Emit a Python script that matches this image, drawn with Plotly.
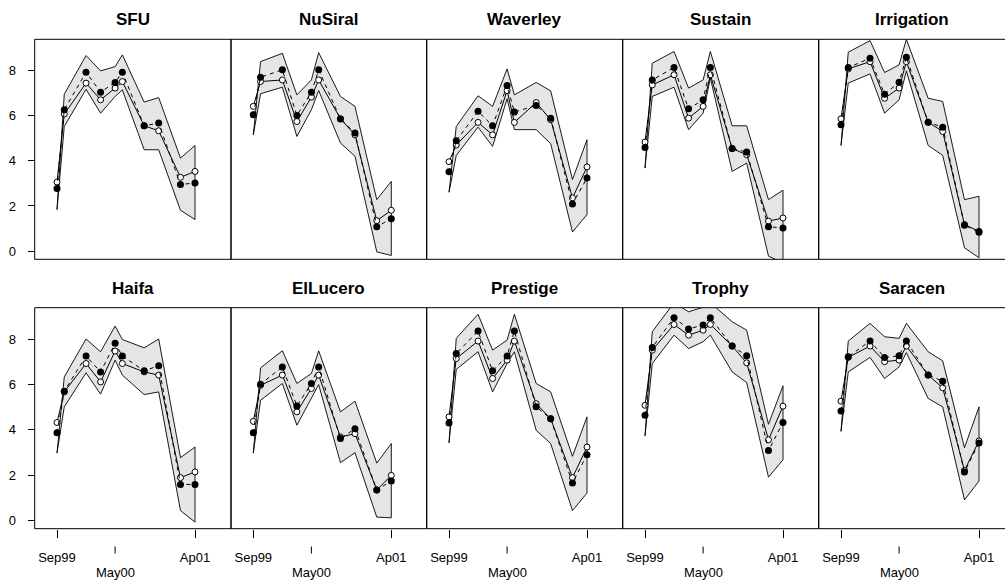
import plotly.graph_objects as go

# ---------------- data ----------------
sites = ["SFU", "NuSiral", "Waverley", "Sustain", "Irrigation",
         "Haifa", "ElLucero", "Prestige", "Trophy", "Saracen"]
# sampling dates as months after Sep 1999
months = [0, 1, 4, 6, 8, 9, 12, 14, 17, 19]
tick_vals = [0, 8, 19]
tick_text = ["Sep99", "May00", "Ap01"]
y_ticks = [0, 2, 4, 6, 8]

observed = [
    [2.77, 6.26, 7.92, 7.04, 7.47, 7.92, 5.55, 5.67, 2.95, 3.02],
    [6.04, 7.70, 8.03, 6.01, 7.04, 8.03, 5.85, 5.23, 1.08, 1.44],
    [3.52, 4.89, 6.19, 5.55, 7.33, 6.16, 6.45, 5.89, 2.09, 3.24],
    [4.59, 7.58, 8.13, 6.30, 6.70, 8.13, 4.54, 4.39, 1.08, 1.03],
    [5.60, 8.13, 8.54, 6.95, 7.48, 8.59, 5.71, 5.49, 1.15, 0.84],
    [3.87, 5.70, 7.25, 6.55, 7.81, 7.25, 6.60, 6.82, 1.59, 1.59],
    [3.87, 6.01, 6.77, 5.05, 6.04, 6.77, 3.61, 4.05, 1.35, 1.74],
    [4.30, 7.36, 8.35, 6.60, 7.25, 8.35, 5.01, 4.49, 1.65, 2.90],
    [4.64, 7.63, 8.94, 8.44, 8.62, 8.94, 7.69, 7.26, 3.09, 4.32],
    [4.83, 7.22, 7.91, 7.19, 7.26, 7.91, 6.41, 6.14, 2.14, 3.42],
]
fitted = [
    [3.06, 6.07, 7.44, 6.70, 7.22, 7.51, 5.55, 5.33, 3.27, 3.53],
    [6.41, 7.51, 7.58, 5.74, 6.82, 7.58, 5.86, 5.15, 1.35, 1.81],
    [3.96, 4.70, 5.70, 5.15, 7.11, 5.70, 6.58, 5.82, 2.36, 3.73],
    [4.83, 7.36, 7.81, 5.89, 6.41, 7.81, 4.54, 4.27, 1.33, 1.47],
    [5.86, 8.07, 8.39, 6.77, 7.22, 8.39, 5.71, 5.30, 1.18, 0.88],
    [4.32, 5.67, 6.92, 6.11, 7.47, 6.92, 6.55, 6.41, 1.89, 2.14],
    [4.37, 5.96, 6.41, 4.79, 5.82, 6.41, 3.68, 3.83, 1.35, 1.99],
    [4.57, 7.14, 7.91, 6.26, 7.07, 7.91, 5.15, 4.49, 1.89, 3.24],
    [5.08, 7.51, 8.64, 8.17, 8.39, 8.64, 7.69, 6.95, 3.56, 5.04],
    [5.26, 7.19, 7.69, 7.00, 7.07, 7.69, 6.41, 5.85, 2.21, 3.51],
]
upper = [
    [1.84, 6.95, 8.66, 7.98, 8.17, 8.69, 6.60, 6.80, 4.12, 4.68],
    [5.15, 8.39, 8.76, 6.92, 7.58, 8.79, 6.85, 6.41, 2.28, 3.09],
    [2.61, 5.52, 6.88, 6.41, 8.07, 6.92, 7.47, 7.10, 3.17, 4.93],
    [3.68, 8.32, 8.84, 7.22, 7.58, 8.84, 5.55, 5.55, 2.28, 2.70],
    [4.68, 8.81, 9.32, 7.91, 8.25, 9.38, 6.77, 6.63, 2.28, 2.43],
    [2.97, 6.33, 8.00, 7.44, 8.57, 7.98, 7.61, 8.00, 2.77, 3.24],
    [2.97, 6.73, 7.48, 6.04, 6.48, 7.48, 4.79, 5.26, 2.53, 3.39],
    [3.42, 8.03, 9.09, 7.51, 7.95, 9.09, 6.04, 5.67, 2.83, 4.57],
    [3.73, 8.32, 9.60, 9.20, 9.40, 9.60, 8.76, 8.39, 4.24, 5.94],
    [3.93, 7.91, 8.69, 8.10, 8.03, 8.69, 7.44, 7.04, 3.21, 5.01],
]
lower = [
    [1.84, 5.52, 7.17, 6.11, 6.85, 7.14, 4.49, 4.49, 1.81, 1.40],
    [5.15, 6.97, 7.26, 5.08, 6.26, 7.11, 4.79, 4.20, -0.03, -0.19],
    [2.61, 4.24, 5.49, 4.64, 6.75, 5.38, 5.38, 4.76, 0.85, 1.62],
    [3.68, 6.85, 7.26, 5.38, 6.11, 7.66, 3.53, 3.90, -0.22, -0.52],
    [4.68, 7.44, 7.85, 6.11, 6.70, 7.98, 4.68, 4.24, 0.15, -0.29],
    [2.97, 5.01, 6.51, 5.57, 7.07, 6.41, 5.55, 5.67, 0.44, -0.07],
    [2.97, 5.30, 6.04, 4.20, 5.40, 5.99, 2.55, 2.99, 0.15, 0.12],
    [3.42, 6.66, 7.44, 5.67, 6.92, 7.44, 3.98, 3.39, 0.44, 1.21],
    [3.73, 6.92, 8.17, 7.58, 7.88, 8.17, 6.55, 6.08, 1.91, 2.68],
    [3.93, 6.55, 7.19, 6.26, 6.77, 7.40, 5.38, 5.01, 0.91, 1.74],
]

# ---------------- layout geometry (pixels) ----------------
W, H = 1005, 582
col_left = [34.7, 231.0, 426.7, 622.7, 818.7]
col_right = [231.0, 426.7, 622.7, 818.7, 1005.0]
row_top = [39.3, 307.7]
row_bot = [259.3, 528.7]
px_per_month = 7.263
first_offset = 22.3  # px from panel left edge to first sample
y_range = [-0.36, 9.38]

FONT = "Liberation Sans, Arial, sans-serif"
BAND = "#e5e5e5"

fig = go.Figure()
layout = dict(
    width=W, height=H,
    margin=dict(l=0, r=0, t=0, b=0),
    paper_bgcolor="white", plot_bgcolor="white",
    showlegend=False,
    font=dict(family=FONT, size=13, color="black"),
)
shapes = []
annotations = []

for i, site in enumerate(sites):
    r, c = divmod(i, 5)
    k = i + 1
    xa = "x" if k == 1 else f"x{k}"
    ya = "y" if k == 1 else f"y{k}"

    # band
    fig.add_trace(go.Scatter(
        x=months + months[::-1], y=upper[i] + lower[i][::-1],
        xaxis=xa, yaxis=ya, mode="lines", fill="toself",
        fillcolor=BAND, line=dict(color="black", width=0.9),
        hoverinfo="skip"))
    # fitted: open circles, solid line
    fig.add_trace(go.Scatter(
        x=months, y=fitted[i], xaxis=xa, yaxis=ya, mode="lines+markers",
        line=dict(color="black", width=1),
        marker=dict(symbol="circle", size=6, color="white",
                    line=dict(color="black", width=1))))
    # observed: filled dots, dashed line
    fig.add_trace(go.Scatter(
        x=months, y=observed[i], xaxis=xa, yaxis=ya, mode="lines+markers",
        line=dict(color="black", width=1, dash="4px,4px"),
        marker=dict(symbol="circle", size=7, color="black")))

    left, right = col_left[c], col_right[c]
    width_px = right - left
    x_lo = -first_offset / px_per_month
    x_hi = (width_px - first_offset) / px_per_month

    xaxis = dict(
        domain=[left / W, right / W], range=[x_lo, x_hi],
        anchor=ya, showgrid=False, zeroline=False,
        showline=False, fixedrange=True,
    )
    if r == 1:
        xaxis.update(tickmode="array", tickvals=[tick_vals[0], tick_vals[2]],
                     ticktext=[tick_text[0], tick_text[2]],
                     ticks="outside", ticklen=8, tickcolor="black",
                     tickwidth=1, ticklabelstandoff=9,
                     tickfont=dict(size=13, family=FONT))
    else:
        xaxis.update(showticklabels=False, ticks="")
    yaxis = dict(
        domain=[1 - row_bot[r] / H, 1 - row_top[r] / H], range=y_range,
        anchor=xa, showgrid=False, zeroline=False, showline=False,
        fixedrange=True,
    )
    if c == 0:
        yaxis.update(tickmode="array", tickvals=y_ticks,
                     ticks="outside", ticklen=6, tickcolor="black",
                     tickwidth=1, ticklabelstandoff=9,
                     tickfont=dict(size=13, family=FONT))
    else:
        yaxis.update(showticklabels=False, ticks="")
    layout["xaxis" if k == 1 else f"xaxis{k}"] = xaxis
    layout["yaxis" if k == 1 else f"yaxis{k}"] = yaxis

    # panel frame (last column runs off the right edge)
    x1 = 1.0 if c < 4 else 1.06
    shapes.append(dict(type="rect", xref=f"{xa} domain", yref=f"{ya} domain",
                       x0=0, x1=x1, y0=0, y1=1,
                       line=dict(color="black", width=1), layer="above"))

    # panel title
    annotations.append(dict(
        text=f"<b>{site}</b>", xref=f"{xa} domain", x=0.5, xanchor="center",
        yref="paper", y=1 - (row_top[r] - 19.5) / H, yanchor="middle",
        showarrow=False, font=dict(size=17, family=FONT)))

    if r == 1:
        # second-line axis mark for May00
        shapes.append(dict(type="line", xref=xa, yref="paper",
                           x0=tick_vals[1], x1=tick_vals[1],
                           y0=1 - 553.5 / H, y1=1 - 546.5 / H,
                           line=dict(color="black", width=1)))
        annotations.append(dict(
            text=tick_text[1], xref=xa, x=tick_vals[1], xanchor="center",
            yref="paper", y=1 - 572.5 / H, yanchor="middle",
            showarrow=False, font=dict(size=13, family=FONT)))

layout["shapes"] = shapes
layout["annotations"] = annotations
fig.update_layout(**layout)
fig.write_html("out.html",
               config={"displayModeBar": False},
               post_script="document.body.style.margin='0';"
                           "document.body.style.overflow='hidden';")
